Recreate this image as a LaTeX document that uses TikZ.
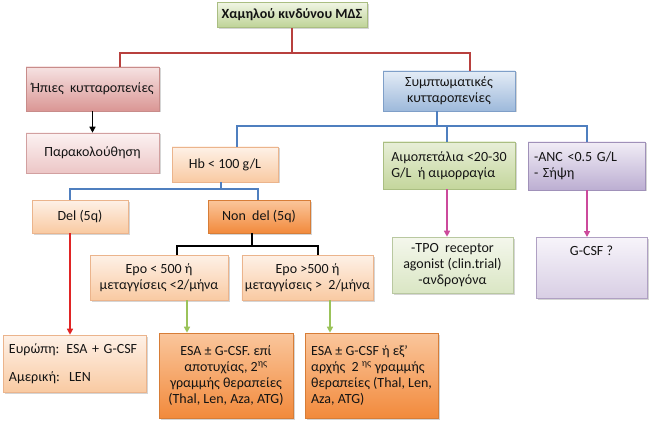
\documentclass[tikz,border=0pt]{standalone}
\usepackage{fontspec}
\setmainfont{Carlito}
\usepackage{xcolor}
\usetikzlibrary{calc,shadows,arrows.meta}

\definecolor{txtgray}{HTML}{141414}
\definecolor{redtr}{HTML}{B8403E}
\definecolor{bluetr}{HTML}{4F7FBF}
\definecolor{greentr}{HTML}{9BC35A}
\definecolor{pinktr}{HTML}{CC4A9C}
\definecolor{brightred}{HTML}{E02424}

\tikzset{
  box/.style={line width=0.6pt, text=txtgray, align=center,
    inner sep=3pt, font=\fontsize{14}{16}\selectfont,
    drop shadow={shadow xshift=1.5pt, shadow yshift=-1.5pt, opacity=0.3, fill=black!55}},
  greenbox/.style={box, top color={rgb,255:red,240;green,245;blue,228}, bottom color={rgb,255:red,190;green,211;blue,150},
    draw={rgb,255:red,170;green,190;blue,130}},
  rosebox/.style={box, top color={rgb,255:red,246;green,226;blue,226}, bottom color={rgb,255:red,218;green,150;blue,148},
    draw={rgb,255:red,200;green,140;blue,138}},
  palerose/.style={box, top color={rgb,255:red,252;green,242;blue,242}, bottom color={rgb,255:red,236;green,198;blue,198},
    draw={rgb,255:red,210;green,160;blue,160}},
  bluebox/.style={box, top color={rgb,255:red,228;green,236;blue,246}, bottom color={rgb,255:red,157;green,185;blue,219},
    draw={rgb,255:red,127;green,159;blue,200}},
  peach/.style={box, top color={rgb,255:red,254;green,241;blue,231}, bottom color={rgb,255:red,249;green,202;blue,162},
    draw={rgb,255:red,235;green,180;blue,140}},
  orangebox/.style={box, top color={rgb,255:red,250;green,198;blue,156}, bottom color={rgb,255:red,242;green,138;blue,60},
    draw={rgb,255:red,215;green,125;blue,55}},
  limebox/.style={box, top color={rgb,255:red,232;green,239;blue,216}, bottom color={rgb,255:red,196;green,214;blue,156},
    draw={rgb,255:red,170;green,190;blue,130}},
  palelime/.style={box, top color={rgb,255:red,244;green,247;blue,236}, bottom color={rgb,255:red,218;green,230;blue,196},
    draw={rgb,255:red,185;green,200;blue,160}},
  lilac/.style={box, top color={rgb,255:red,241;green,237;blue,246}, bottom color={rgb,255:red,188;green,174;blue,210},
    draw={rgb,255:red,160;green,145;blue,185}},
  palelilac/.style={box, top color={rgb,255:red,247;green,244;blue,250}, bottom color={rgb,255:red,216;green,206;blue,228},
    draw={rgb,255:red,175;green,160;blue,195}},
  redtree/.style={draw=redtr, line width=1.8pt},
  bluetree/.style={draw=bluetr, line width=1.8pt},
  blacktree/.style={draw=black, line width=2.2pt},
  arr/.style={line width=1.4pt, -{Triangle[length=6pt,width=6pt]}},
}

\begin{document}
\begin{tikzpicture}[x=1pt,y=-1pt]
\useasboundingbox (0,0) rectangle (650,422);

% boxes
\node[greenbox, minimum width=150, minimum height=25, font=\fontsize{14}{16}\selectfont\bfseries]
  (top) at (292,15) {Χαμηλού κινδύνου ΜΔΣ};
\node[rosebox, minimum width=133, minimum height=44] (mild) at (92.5,89) {Ήπιες\ \ κυτταροπενίες};
\node[palerose, minimum width=133, minimum height=40] (watch) at (92.5,153) {Παρακολούθηση};
\node[bluebox, minimum width=132, minimum height=40] (sympt) at (449,91) {Συμπτωματικές\\κυτταροπενίες};

\node[peach, minimum width=106, minimum height=35] (hb) at (225,164.5) {Hb < 100 g/L};
\node[limebox, minimum width=132, minimum height=47, align=left] (plt) at (449,165.5)
  {Αιμοπετάλια <20-30\\G/L\ \ ή αιμορραγία};
\node[lilac, minimum width=117, minimum height=48, align=left, text width=105] (anc) at (586.5,166)
  {-ANC <0.5 G/L\\- Σήψη};

\node[peach, minimum width=96, minimum height=33] (del) at (80,216.5) {Del (5q)};
\node[orangebox, minimum width=102, minimum height=33] (nondel) at (259,216.5) {Non\ \ del (5q)};

\node[peach, minimum width=138, minimum height=45] (epolow) at (159,277.5)
  {Epo < 500 ή\\μεταγγίσεις <2/μήνα};
\node[peach, minimum width=129, minimum height=45] (epohigh) at (307.5,277.5)
  {Epo >500 ή\\μεταγγίσεις >\ \ 2/μήνα};
\node[palelime, minimum width=121, minimum height=56] (tpo) at (452.5,265)
  {-TPO\ \ receptor\\agonist (clin.trial)\\-ανδρογόνα};
\node[palelilac, minimum width=111, anchor=north, inner ysep=4pt, text height=14pt, text depth=39pt]
  (gcsf) at (591.5,237) {G-CSF ?};

\node[peach, minimum width=143, minimum height=57, align=left, text width=131] (europe) at (74.5,363.5)
  {Ευρώπη: ESA + G-CSF\\[12pt]Αμερική:\ \ LEN};
\node[orangebox, minimum width=134, minimum height=85] (esa1) at (226,375.5)
  {ESA ± G-CSF. επί\\αποτυχίας, 2\textsuperscript{ης}\\γραμμής θεραπείες\\(Thal, Len, Aza, ATG)};
\node[orangebox, minimum width=133, minimum height=85, align=left] (esa2) at (371.5,375.5)
  {ESA ± G-CSF ή εξ’\\αρχής\ \ 2 \textsuperscript{ης} γραμμής\\θεραπείες (Thal, Len,\\Aza, ATG)};

% junctions
\coordinate (r1) at (120,53);
\coordinate (r2) at (470,53);
\coordinate (b0) at (437,126);
\coordinate (b1) at (237,126);
\coordinate (b2) at (587,126);
\coordinate (c0) at (221,189);
\coordinate (c1) at (70,189);
\coordinate (c2) at (258,189);
\coordinate (k0) at (252,246);
\coordinate (k1) at (177,246);
\coordinate (k2) at (318,246);
\coordinate (g1) at (187,0);
\coordinate (g2) at (330,0);

% connectors
\draw[redtree] (top.south) -- (top.south |- r1);
\draw[redtree] (mild.north -| r1) |- (r2) -- (sympt.north -| r2);
\draw[arr] (mild.south) -- (watch.north);

\draw[bluetree] (sympt.south -| b0) -- (b0);
\draw[bluetree] (hb.north -| b1) |- (b2) -- (anc.north -| b2);
\draw[bluetree] (plt.north -| 447,0) -- (b0 -| 447,0);

\draw[bluetree] (hb.south -| c0) -- (c0);
\draw[bluetree] (del.north -| c1) |- (c2) -- (nondel.north -| c2);

\draw[blacktree] (nondel.south -| k0) -- (k0);
\draw[blacktree] (epolow.north -| k1) |- (k2) -- (epohigh.north -| k2);

\draw[arr, brightred] (del.south -| c1) -- (europe.north -| c1);
\draw[arr, greentr] (epolow.south -| g1) -- (esa1.north -| g1);
\draw[arr, greentr] (epohigh.south -| g2) -- (esa2.north -| g2);
\draw[arr, pinktr] (plt.south -| 447,0) -- (tpo.north -| 447,0);
\draw[arr, pinktr] (anc.south -| b2) -- (gcsf.north -| b2);
\end{tikzpicture}
\end{document}
